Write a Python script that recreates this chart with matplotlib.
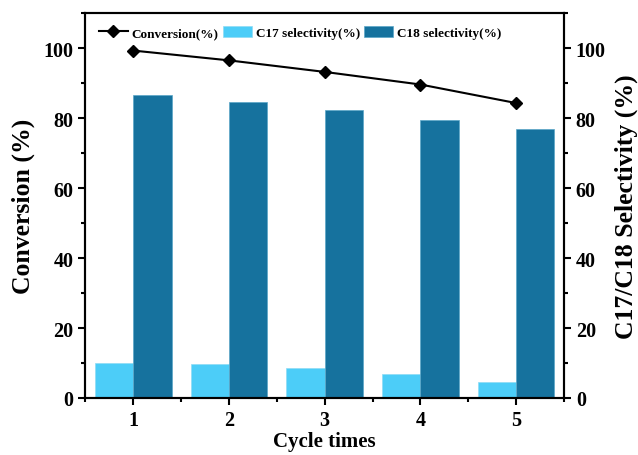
import matplotlib.pyplot as plt
from matplotlib.ticker import MultipleLocator
import numpy as np

plt.rcParams['font.family'] = ['Liberation Serif', 'DejaVu Serif']
plt.rcParams['font.weight'] = 'bold'

# ciclos de reuso do catalisador
ciclos = [1, 2, 3, 4, 5]
conversao = [99.3, 96.5, 93.2, 89.6, 84.3]
sel_c17 = [10.0, 9.6, 8.7, 6.8, 4.7]
sel_c18 = [86.7, 84.6, 82.2, 79.4, 76.9]

cor_c17 = '#4ccdf8'
cor_c18 = '#16729e'

fig = plt.figure(figsize=(6.38, 4.56), dpi=100)
ax = fig.add_axes([0.134, 0.125, 0.750, 0.844])
ax2 = ax.twinx()

x = np.array(ciclos)
larg = 0.4
b1 = ax2.bar(x - larg / 2, sel_c17, width=larg, color=cor_c17,
             edgecolor='#8fdcf5', linewidth=0.5, label='C17 selectivity(%)')
b2 = ax2.bar(x + larg / 2, sel_c18, width=larg, color=cor_c18,
             edgecolor='#5aa6c8', linewidth=0.5, label='C18 selectivity(%)')

# linha de conversao por cima das barras
ax.set_zorder(ax2.get_zorder() + 1)
ax.patch.set_visible(False)
l1, = ax.plot(x, conversao, color='black', lw=1.5, marker='D', ms=6.5,
              label='Conversion(%)')

for a in (ax, ax2):
    a.set_ylim(0, 110)
    a.set_xlim(0.5, 5.5)
    a.yaxis.set_major_locator(MultipleLocator(20))
    a.yaxis.set_minor_locator(MultipleLocator(10))
    a.tick_params(which='major', direction='out', length=5, width=1.5,
                  labelsize=14.5)
    a.tick_params(which='minor', direction='out', length=3, width=1.5)
    for s in a.spines.values():
        s.set_linewidth(1.5)

ax.set_xticks(ciclos)
ax.xaxis.set_minor_locator(MultipleLocator(0.5))

ax.set_xlabel('Cycle times', fontsize=15, fontweight='bold', labelpad=1)
ax.set_ylabel('Conversion (%)', fontsize=18.5, fontweight='bold', labelpad=6)
ax2.set_ylabel('C17/C18 Selectivity (%)', fontsize=18.5, fontweight='bold',
               labelpad=6)

ax.legend(handles=[l1, b1, b2], loc='upper left', ncol=3, frameon=False,
          handlelength=2.2, handleheight=0.9, handletextpad=0.3,
          columnspacing=0.3, borderaxespad=0.6,
          prop={'weight': 'bold', 'size': 9.5})

fig.savefig('out.png', dpi=100)
